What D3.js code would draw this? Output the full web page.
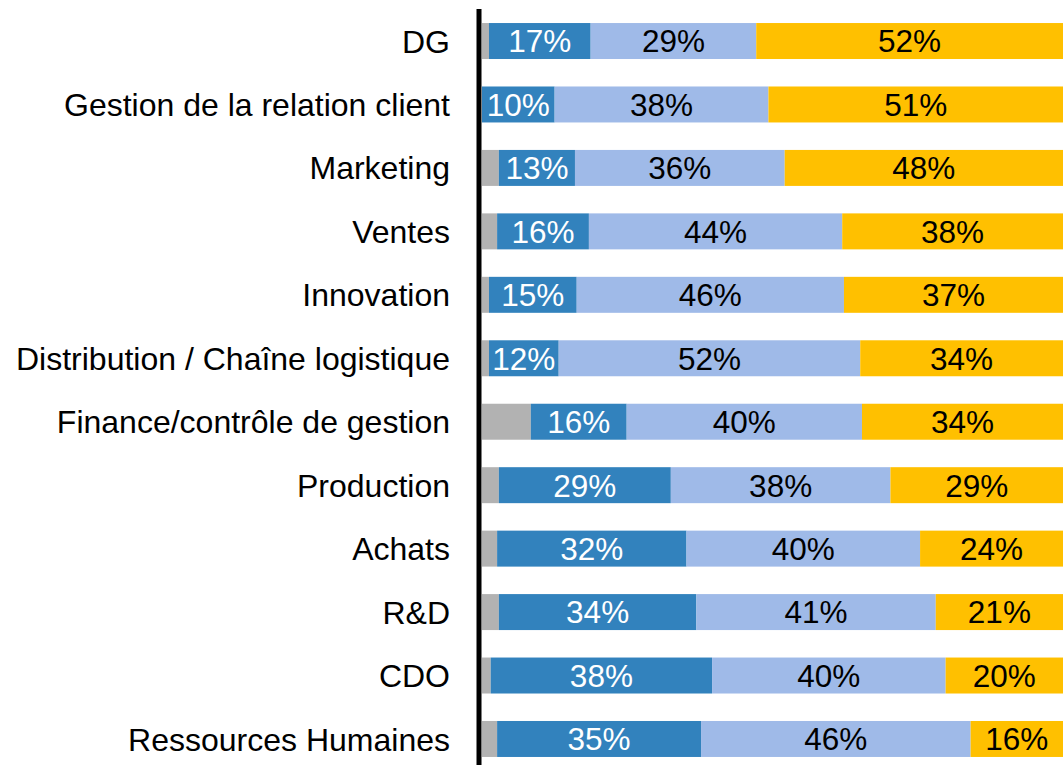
<!DOCTYPE html>
<html>
<head>
<meta charset="utf-8">
<script src="https://cdn.jsdelivr.net/npm/d3@7"></script>
<style>
  body { margin: 0; background: #fff; }
  text { font-family: "Liberation Sans", Arial, sans-serif; }
</style>
</head>
<body>
<div id="chart"></div>
<script>
const width = 1063;
const height = 765;

// categories, top to bottom
const categories = ['DG', 'Gestion de la relation client', 'Marketing', 'Ventes', 'Innovation',
    'Distribution / Chaîne logistique', 'Finance/contrôle de gestion', 'Production', 'Achats',
    'R&D', 'CDO', 'Ressources Humaines'];

// segment shares in %
const greyVals  = [1.2, 0.0, 2.9, 2.6, 1.2, 1.2, 8.4, 2.9, 2.6, 2.9, 1.5, 2.6];
const darkVals  = [17.5, 12.5, 13.1, 15.8, 15.1, 12.0, 16.5, 29.6, 32.6, 34.0, 38.1, 35.1];
const lightVals = [28.5, 36.8, 36.1, 43.6, 46.0, 51.9, 40.5, 37.8, 40.2, 41.2, 40.2, 46.4];
const goldVals  = [52.8, 50.7, 47.9, 38.0, 37.7, 34.9, 34.6, 29.7, 24.6, 21.9, 20.2, 15.9];

// printed labels
const darkLabels  = ['17%', '10%', '13%', '16%', '15%', '12%', '16%', '29%', '32%', '34%', '38%', '35%'];
const lightLabels = ['29%', '38%', '36%', '44%', '46%', '52%', '40%', '38%', '40%', '41%', '40%', '46%'];
const goldLabels  = ['52%', '51%', '48%', '38%', '37%', '34%', '34%', '29%', '24%', '21%', '20%', '16%'];

const series = [
    { key: 'grey', values: greyVals, color: '#b2b2b2', labels: null, textColor: null },
    { key: 'dark', values: darkVals, color: '#3282bd', labels: darkLabels, textColor: '#fff' },
    { key: 'light', values: lightVals, color: '#9fbae8', labels: lightLabels, textColor: '#000' },
    { key: 'gold', values: goldVals, color: '#ffc000', labels: goldLabels, textColor: '#000' }
];

const rows = categories.map((c, i) => {
    const r = { cat: c };
    series.forEach(s => r[s.key] = s.values[i]);
    return r;
});

const stack = d3.stack().keys(series.map(s => s.key));
const stacked = stack(rows);

const x = d3.scaleLinear().domain([0, 100]).range([482, 1063]);
const y = d3.scaleBand().domain(categories).range([9.3, 770.7])
    .paddingInner(0.433).paddingOuter(0.2165);

const svg = d3.select('#chart').append('svg')
    .attr('width', width).attr('height', height);

const layers = svg.selectAll('g.layer').data(stacked).join('g')
    .attr('class', 'layer')
    .attr('fill', (d, i) => series[i].color);

layers.selectAll('rect').data(d => d).join('rect')
    .attr('x', d => x(d[0]))
    .attr('y', d => y(d.data.cat))
    .attr('width', d => x(d[1]) - x(d[0]))
    .attr('height', y.bandwidth());

// value labels
stacked.forEach((layer, li) => {
    const s = series[li];
    if (!s.labels) return;
    svg.append('g').selectAll('text').data(layer).join('text')
        .attr('x', d => (x(d[0]) + x(d[1])) / 2)
        .attr('y', d => y(d.data.cat) + y.bandwidth() / 2)
        .attr('dy', '0.36em')
        .attr('text-anchor', 'middle')
        .attr('font-size', 31.5)
        .attr('fill', s.textColor)
        .text((d, i) => s.labels[i]);
});

// category axis
const yAxis = d3.axisLeft(y).tickSize(0).tickPadding(29);
const yAxisG = svg.append('g').attr('transform', 'translate(479,0)').call(yAxis);
yAxisG.select('.domain').remove();
yAxisG.selectAll('text')
    .attr('font-size', 32)
    .attr('fill', '#000')
    .attr('dy', '0.36em')
    .style('font-family', '"Liberation Sans", Arial, sans-serif');

svg.append('line')
    .attr('x1', 479).attr('x2', 479)
    .attr('y1', 9).attr('y2', height)
    .attr('stroke', '#000').attr('stroke-width', 5);
</script>
</body>
</html>
